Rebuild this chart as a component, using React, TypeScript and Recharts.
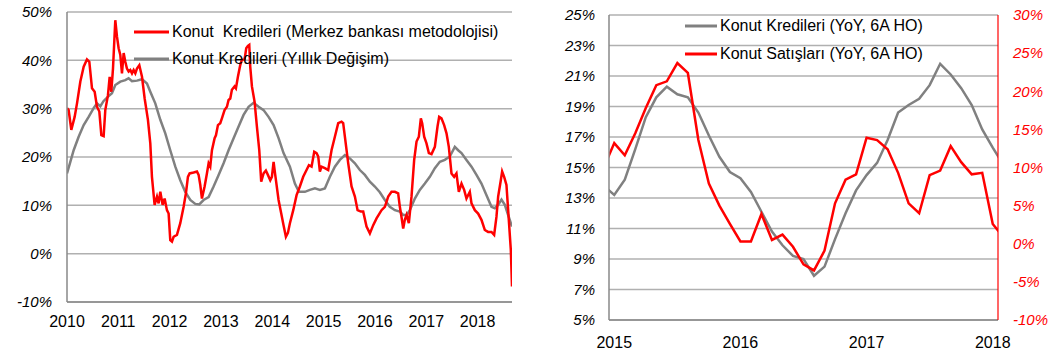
import { LineChart, Line, XAxis, YAxis, CartesianGrid } from 'recharts'

// Sol grafik: haftalık/aylık konut kredisi büyümesi (%), [yıl, değer]
const krediMbYears = [
  2010.0, 2010.032, 2010.084, 2010.149, 2010.195, 2010.26, 2010.325, 2010.389, 2010.435, 2010.487,
  2010.539, 2010.584, 2010.63, 2010.669, 2010.714, 2010.746, 2010.798, 2010.831, 2010.863, 2010.896,
  2010.941, 2010.974, 2011.006, 2011.039, 2011.071, 2011.104, 2011.136, 2011.168, 2011.201, 2011.233,
  2011.266, 2011.298, 2011.331, 2011.363, 2011.409, 2011.461, 2011.513, 2011.577, 2011.623, 2011.655,
  2011.707, 2011.753, 2011.785, 2011.818, 2011.863, 2011.902, 2011.947, 2011.98, 2012.012, 2012.045,
  2012.077, 2012.142, 2012.207, 2012.272, 2012.317, 2012.356, 2012.389, 2012.467, 2012.532, 2012.564,
  2012.597, 2012.629, 2012.681, 2012.726, 2012.759, 2012.791, 2012.824, 2012.876, 2012.902, 2012.941,
  2012.986, 2013.018, 2013.07, 2013.116, 2013.148, 2013.181, 2013.213, 2013.265, 2013.291, 2013.33,
  2013.375, 2013.408, 2013.46, 2013.492, 2013.525, 2013.551, 2013.57, 2013.603, 2013.655, 2013.7,
  2013.746, 2013.784, 2013.83, 2013.875, 2013.914, 2013.96, 2013.992, 2014.025, 2014.057, 2014.122,
  2014.174, 2014.219, 2014.265, 2014.304, 2014.343, 2014.408, 2014.473, 2014.537, 2014.602, 2014.667,
  2014.713, 2014.765, 2014.817, 2014.862, 2014.895, 2014.927, 2014.959, 2015.024, 2015.089, 2015.154,
  2015.219, 2015.284, 2015.349, 2015.381, 2015.414, 2015.479, 2015.544, 2015.609, 2015.661, 2015.725,
  2015.771, 2015.836, 2015.901, 2015.966, 2016.031, 2016.128, 2016.193, 2016.258, 2016.323, 2016.388,
  2016.452, 2016.485, 2016.517, 2016.55, 2016.582, 2016.615, 2016.66, 2016.712, 2016.764, 2016.81,
  2016.855, 2016.894, 2016.92, 2016.959, 2017.004, 2017.05, 2017.102, 2017.167, 2017.219, 2017.251,
  2017.296, 2017.348, 2017.394, 2017.439, 2017.491, 2017.543, 2017.588, 2017.634, 2017.686, 2017.738,
  2017.783, 2017.848, 2017.881, 2017.946, 2018.01, 2018.075, 2018.14, 2018.205, 2018.27, 2018.322,
  2018.367, 2018.4, 2018.452, 2018.478, 2018.517, 2018.562, 2018.595, 2018.647, 2018.67,
]
const krediMbValues = [
  30.1, 29.7, 25.6, 28.3, 31.1, 35.6, 38.7, 40.2, 39.7, 34.2,
  33.5, 30.4, 29.4, 24.5, 24.3, 29.7, 32.8, 36.6, 33.5, 38.3,
  48.3, 44.9, 42.5, 41.1, 37.3, 41.5, 39.7, 38.3, 37.7, 38.0,
  37.3, 38.0, 37.3, 38.3, 39.0, 36.6, 32.1, 27.7, 22.8, 15.9,
  10.1, 11.8, 10.4, 12.8, 10.1, 11.4, 9.0, 8.3, 2.8, 2.5,
  3.5, 3.9, 6.3, 9.7, 12.5, 15.9, 16.6, 16.8, 17.0, 16.3,
  14.2, 11.4, 13.9, 16.6, 18.7, 18.0, 21.4, 23.9, 24.5, 26.6,
  27.0, 28.0, 29.7, 30.4, 31.8, 32.1, 33.9, 34.6, 34.2, 36.6,
  39.0, 40.1, 40.2, 42.5, 43.0, 43.2, 38.7, 34.6, 31.4, 26.3,
  21.4, 14.9, 16.6, 17.2, 16.3, 15.2, 15.9, 19.0, 16.3, 11.1,
  8.3, 5.9, 3.5, 4.3, 6.3, 9.0, 12.1, 13.9, 15.9, 17.3,
  18.3, 18.0, 21.1, 20.8, 20.1, 17.0, 18.0, 17.7, 17.3, 21.4,
  24.2, 27.0, 27.3, 27.0, 24.2, 18.7, 13.9, 11.8, 9.0, 8.7,
  8.7, 5.6, 4.2, 5.9, 7.3, 9.0, 9.7, 11.8, 12.8, 12.8,
  12.5, 9.7, 7.6, 5.2, 7.0, 8.0, 6.3, 11.8, 19.4, 23.2,
  24.2, 28.0, 27.0, 24.2, 22.8, 20.8, 20.6, 22.1, 26.3, 28.3,
  28.0, 26.6, 24.9, 22.1, 16.6, 15.9, 16.6, 12.8, 14.5, 13.2,
  11.4, 12.8, 10.4, 9.0, 8.3, 7.0, 4.9, 4.5, 4.5, 3.9,
  7.6, 11.8, 15.2, 17.0, 15.9, 14.2, 9.0, 0.8, -6.8,
]

const krediYoyYears = [
  2010.0, 2010.065, 2010.13, 2010.227, 2010.325, 2010.422, 2010.519, 2010.584, 2010.649, 2010.714,
  2010.811, 2010.876, 2010.941, 2011.039, 2011.136, 2011.201, 2011.266, 2011.363, 2011.461, 2011.558,
  2011.623, 2011.72, 2011.818, 2011.915, 2012.012, 2012.11, 2012.207, 2012.304, 2012.402, 2012.499,
  2012.577, 2012.661, 2012.759, 2012.856, 2012.954, 2013.051, 2013.148, 2013.246, 2013.343, 2013.44,
  2013.538, 2013.635, 2013.733, 2013.83, 2013.927, 2014.025, 2014.122, 2014.219, 2014.343, 2014.44,
  2014.518, 2014.635, 2014.732, 2014.83, 2014.927, 2015.024, 2015.122, 2015.219, 2015.316, 2015.414,
  2015.511, 2015.609, 2015.706, 2015.803, 2015.901, 2015.998, 2016.095, 2016.193, 2016.29, 2016.388,
  2016.485, 2016.55, 2016.615, 2016.68, 2016.777, 2016.874, 2016.972, 2017.069, 2017.167, 2017.264,
  2017.361, 2017.459, 2017.556, 2017.621, 2017.686, 2017.783, 2017.881, 2017.978, 2018.075, 2018.173,
  2018.27, 2018.335, 2018.4, 2018.465, 2018.53, 2018.595, 2018.67,
]
const krediYoyValues = [
  16.6, 19.0, 21.4, 24.2, 26.6, 28.3, 30.1, 31.1, 30.5, 31.6,
  32.6, 33.2, 34.9, 35.6, 35.9, 36.3, 35.7, 35.8, 36.1, 35.2,
  33.5, 31.1, 27.7, 24.9, 21.4, 18.0, 15.2, 12.8, 11.1, 10.3,
  10.2, 11.1, 11.7, 13.9, 16.3, 18.7, 21.4, 23.9, 26.3, 28.7,
  30.4, 31.2, 30.4, 29.7, 28.3, 26.6, 23.9, 20.8, 18.0, 14.5,
  12.8, 12.8, 13.2, 13.5, 13.2, 13.5, 15.9, 18.0, 19.4, 20.4,
  19.7, 18.7, 17.3, 16.3, 14.9, 13.9, 12.7, 11.1, 9.7, 9.0,
  8.7, 8.0, 8.0, 9.0, 11.4, 13.2, 14.5, 15.9, 17.7, 19.0,
  19.4, 20.1, 22.1, 21.4, 20.8, 19.4, 18.0, 16.3, 14.5, 12.1,
  9.7, 9.4, 10.1, 11.2, 10.1, 8.0, 5.6,
]

const leftYearTicks = [2010, 2011, 2012, 2013, 2014, 2015, 2016, 2017, 2018]
const leftPctTicks = [-10, 0, 10, 20, 30, 40, 50]

// Sağ grafik: aylık, YoY 6A HO
const rightMonths = [
  '2014-12',
  '2015-01', '2015-02', '2015-03', '2015-04', '2015-05', '2015-06', '2015-07', '2015-08', '2015-09', '2015-10', '2015-11', '2015-12',
  '2016-01', '2016-02', '2016-03', '2016-04', '2016-05', '2016-06', '2016-07', '2016-08', '2016-09', '2016-10', '2016-11', '2016-12',
  '2017-01', '2017-02', '2017-03', '2017-04', '2017-05', '2017-06', '2017-07', '2017-08', '2017-09', '2017-10', '2017-11', '2017-12',
  '2018-01', '2018-02',
]
const krediHoValues = [
  13.8,
  13.2, 14.2, 16.2, 18.3, 19.6, 20.3, 19.8, 19.6, 18.6, 17.1, 15.7, 14.7,
  14.3, 13.4, 12.1, 10.8, 9.9, 9.2, 9.0, 7.9, 8.5, 10.3, 12.0, 13.5,
  14.5, 15.3, 16.8, 18.6, 19.1, 19.5, 20.4, 21.8, 21.1, 20.2, 19.1, 17.5,
  16.3, 15.2,
]
const satisHoValues = [
  10.0,
  13.2, 11.6, 14.5, 17.8, 20.8, 21.3, 23.7, 22.4, 13.6, 7.9, 5.0, 2.6,
  0.3, 0.3, 3.9, 0.5, 1.2, -0.4, -2.7, -3.5, -0.9, 5.3, 8.4, 9.1,
  13.9, 13.6, 12.4, 9.3, 5.3, 4.0, 9.0, 9.6, 12.8, 10.7, 9.1, 9.3,
  2.6, 0.9,
]
const rightYearTicks = [2015, 2016, 2017, 2018]
const rightLeftTicks = [5, 7, 9, 11, 13, 15, 17, 19, 21, 23, 25]
const rightRightTicks = [-10, -5, 0, 5, 10, 15, 20, 25, 30]

const RED = '#ff0000'
const GREY = '#808080'
const FONT = "'Liberation Sans', Arial, sans-serif"

const toPoints = (xs: number[], vs: number[]) => xs.map((x, i) => ({ x, v: vs[i] }))
const monthIndex = (m: string) => {
  const [y, mo] = m.split('-').map(Number)
  return (y - 2015) * 12 + (mo - 1)
}
const toMonthly = (vs: number[]) => rightMonths.map((m, i) => ({ k: monthIndex(m), v: vs[i] }))

const mbData = toPoints(krediMbYears, krediMbValues)
const yoyData = toPoints(krediYoyYears, krediYoyValues)
const krediHoData = toMonthly(krediHoValues)
const satisHoData = toMonthly(satisHoValues)

const pct = (v: number) => `${v}%`

function LegendBox({ items, top, left, sample, rowH }: {
  items: { label: string; color: string }[]
  top: number
  left: number
  sample: number
  rowH: number
}) {
  return (
    <div style={{ position: 'absolute', top, left, fontFamily: FONT, fontSize: 16, color: '#000' }}>
      {items.map((it) => (
        <div key={it.label} style={{ display: 'flex', alignItems: 'center', height: rowH, whiteSpace: 'pre' }}>
          <svg width={sample} height={4} style={{ marginRight: 3 }}>
            <line x1={0} y1={2} x2={sample} y2={2} stroke={it.color} strokeWidth={3} />
          </svg>
          <span>{it.label}</span>
        </div>
      ))}
    </div>
  )
}

export default function App() {
  const tickY = { fill: '#000', fontSize: 15, fontStyle: 'italic', fontFamily: FONT }
  const tickX = { fill: '#000', fontSize: 16, fontFamily: FONT }

  return (
    <div style={{ position: 'absolute', top: 0, left: 0, width: 1051, height: 355, background: '#fff' }}>
      <div style={{ position: 'absolute', left: 0, top: 0 }}>
        <LineChart width={530} height={355} margin={{ top: 12, right: 18, bottom: 0, left: 0 }}>
          <CartesianGrid yAxisId="val" vertical={false} stroke="#b0b0b0" strokeWidth={1.5} />
          <XAxis dataKey="x" type="number" domain={[2010, 2018.67]} ticks={leftYearTicks} interval={0}
            height={53} tickSize={0} tickMargin={14} tickLine={false}
            axisLine={{ stroke: '#888', strokeWidth: 1.5 }} tick={tickX} allowDataOverflow />
          <YAxis yAxisId="val" domain={[-10, 50]} ticks={leftPctTicks} interval={0} width={67}
            tickSize={0} tickMargin={15} tickLine={false} tickFormatter={pct}
            axisLine={{ stroke: '#888', strokeWidth: 1.5 }} tick={tickY} />
          <YAxis yAxisId="border" orientation="right" width={0} tick={false} tickLine={false}
            axisLine={{ stroke: '#888', strokeWidth: 1.5 }} />
          <Line yAxisId="val" data={yoyData} dataKey="v" stroke={GREY} strokeWidth={2.5} dot={false}
            type="linear" isAnimationActive={false} />
          <Line yAxisId="val" data={mbData} dataKey="v" stroke={RED} strokeWidth={2.5} dot={false}
            type="linear" isAnimationActive={false} />
        </LineChart>
      </div>

      <div style={{ position: 'absolute', left: 540, top: 0 }}>
        <LineChart width={511} height={355} margin={{ top: 15, right: 0, bottom: 0, left: 0 }}>
          <CartesianGrid yAxisId="left" vertical={false} stroke="#b0b0b0" strokeWidth={1.5} />
          <XAxis dataKey="k" type="number" domain={[-0.5, 36.5]} allowDataOverflow
            ticks={rightYearTicks.map((y) => (y - 2015) * 12)} interval={0}
            tickFormatter={(v: number) => String(2015 + v / 12)}
            height={35} tickSize={0} tickMargin={17} tickLine={false}
            axisLine={{ stroke: '#888', strokeWidth: 1.5 }} tick={tickX} />
          <YAxis yAxisId="left" domain={[5, 25]} ticks={rightLeftTicks} interval={0} width={69}
            tickSize={0} tickMargin={14} tickLine={false} tickFormatter={pct}
            axisLine={{ stroke: '#888', strokeWidth: 1.5 }} tick={tickY} />
          <YAxis yAxisId="right" orientation="right" domain={[-10, 30]} ticks={rightRightTicks} interval={0}
            width={53} tickSize={0} tickMargin={15} tickLine={false} tickFormatter={pct}
            axisLine={{ stroke: RED, strokeWidth: 1.2 }} tick={{ ...tickY, fill: RED }} />
          <Line yAxisId="left" data={krediHoData} dataKey="v" stroke={GREY} strokeWidth={2.5} dot={false}
            type="linear" isAnimationActive={false} />
          <Line yAxisId="right" data={satisHoData} dataKey="v" stroke={RED} strokeWidth={2.5} dot={false}
            type="linear" isAnimationActive={false} />
        </LineChart>
      </div>

      <LegendBox
        top={17.75}
        left={134}
        sample={35}
        rowH={27.5}
        items={[
          { label: 'Konut  Kredileri (Merkez bankası metodolojisi)', color: RED },
          { label: 'Konut Kredileri (Yıllık Değişim)', color: GREY },
        ]}
      />
      <LegendBox
        top={12}
        left={685}
        sample={32}
        rowH={28}
        items={[
          { label: 'Konut Kredileri (YoY, 6A HO)', color: GREY },
          { label: 'Konut Satışları (YoY, 6A HO)', color: RED },
        ]}
      />
    </div>
  )
}
